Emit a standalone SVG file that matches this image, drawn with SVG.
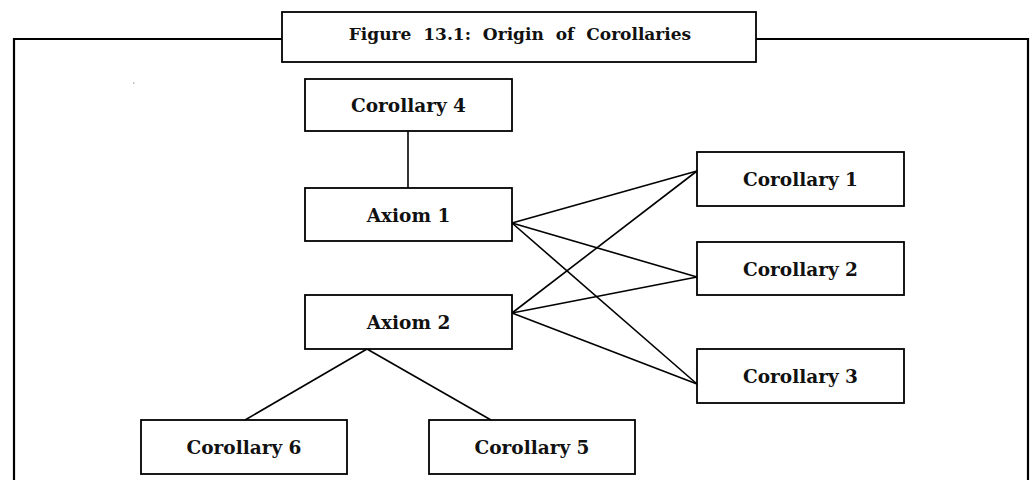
<svg xmlns="http://www.w3.org/2000/svg" width="1031" height="480" viewBox="0 0 1031 480">
  <style>
    .box { fill: #ffffff; stroke: #000000; stroke-width: 1.8; }
    .frame { fill: none; stroke: #000000; stroke-width: 2.2; }
    .link { fill: none; stroke: #000000; stroke-width: 1.6; }
    .label { font-family: "DejaVu Serif", "Liberation Serif", serif; font-weight: bold; font-size: 18.5px; fill: #111111; text-anchor: middle; }
    .title { font-family: "DejaVu Serif", "Liberation Serif", serif; font-weight: bold; font-size: 17px; fill: #111111; text-anchor: middle; word-spacing: 6px; }
  </style>
  <rect width="1031" height="480" fill="#ffffff"/>

  <!-- outer frame, open at the bottom -->
  <path class="frame" d="M14,480 V39 H1028 V480"/>

  <!-- caption tab -->
  <g id="title">
    <rect class="box" x="282" y="12" width="474" height="50" stroke-width="2.2"/>
    <text class="title" x="520" y="39.5">Figure 13.1: Origin of Corollaries</text>
  </g>

  <!-- stray speck -->
  <rect x="133" y="82.5" width="1.5" height="1" fill="#888888"/>

  <g id="connectors">
    <line class="link" x1="408" y1="131" x2="408" y2="188"/>
    <line class="link" x1="512" y1="223" x2="697" y2="171"/>
    <line class="link" x1="512" y1="223" x2="697" y2="277"/>
    <line class="link" x1="512" y1="223" x2="697" y2="384"/>
    <line class="link" x1="512" y1="313" x2="697" y2="171"/>
    <line class="link" x1="512" y1="313" x2="697" y2="277"/>
    <line class="link" x1="512" y1="313" x2="697" y2="384"/>
    <line class="link" x1="367" y1="349" x2="245" y2="420"/>
    <line class="link" x1="367" y1="349" x2="491" y2="420"/>
  </g>

  <g id="corollary4">
    <rect class="box" x="305" y="79" width="207" height="52"/>
    <text class="label" x="408.5" y="112">Corollary 4</text>
  </g>
  <g id="axiom1">
    <rect class="box" x="305" y="188" width="207" height="53"/>
    <text class="label" x="408.5" y="221.5">Axiom 1</text>
  </g>
  <g id="axiom2">
    <rect class="box" x="305" y="295" width="207" height="54"/>
    <text class="label" x="408.5" y="329">Axiom 2</text>
  </g>
  <g id="corollary1">
    <rect class="box" x="697" y="152" width="207" height="54"/>
    <text class="label" x="800.5" y="186">Corollary 1</text>
  </g>
  <g id="corollary2">
    <rect class="box" x="697" y="242" width="207" height="53"/>
    <text class="label" x="800.5" y="275.5">Corollary 2</text>
  </g>
  <g id="corollary3">
    <rect class="box" x="697" y="349" width="207" height="54"/>
    <text class="label" x="800.5" y="383">Corollary 3</text>
  </g>
  <g id="corollary6">
    <rect class="box" x="141" y="420" width="206" height="54"/>
    <text class="label" x="244" y="454">Corollary 6</text>
  </g>
  <g id="corollary5">
    <rect class="box" x="429" y="420" width="206" height="54"/>
    <text class="label" x="532" y="454">Corollary 5</text>
  </g>
</svg>
